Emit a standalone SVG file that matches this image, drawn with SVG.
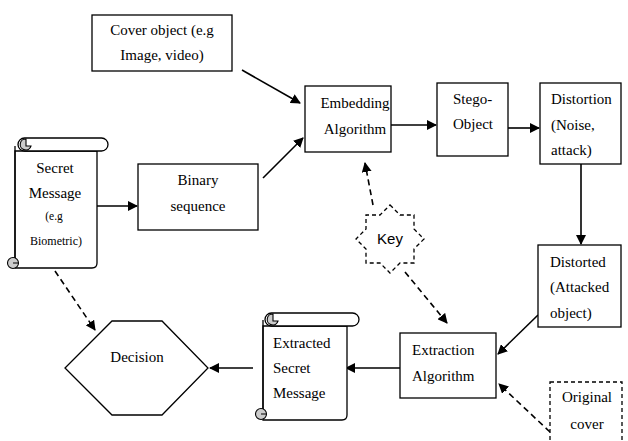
<svg xmlns="http://www.w3.org/2000/svg" width="628" height="441" viewBox="0 0 628 441">
<defs>
<marker id="ah" viewBox="0 0 10 10" refX="9" refY="5" markerWidth="10" markerHeight="10" markerUnits="userSpaceOnUse" orient="auto">
<path d="M0,0 L10,5 L0,10 z" fill="#000"/>
</marker>
</defs>
<style>
.box{fill:#fff;stroke:#000;stroke-width:1.3}
.dbox{fill:#fff;stroke:#000;stroke-width:1.3;stroke-dasharray:4,3}
.t{font-family:"Liberation Serif","Times New Roman",serif;font-size:15px;fill:#000}
.c{text-anchor:middle}
.ln{stroke:#000;stroke-width:1.6;fill:none;marker-end:url(#ah)}
.dl{stroke:#000;stroke-width:1.6;fill:none;stroke-dasharray:6,4;marker-end:url(#ah)}
.curl{fill:#ccc;stroke:#000;stroke-width:1.1}
</style>
<rect width="628" height="441" fill="#fff"/>
<g id="connectors">
<line class="ln" x1="242" y1="70" x2="300" y2="103"/>
<line class="ln" x1="263" y1="178" x2="303" y2="138"/>
<line class="ln" x1="97" y1="206" x2="137" y2="206"/>
<line class="ln" x1="391" y1="125" x2="436" y2="125"/>
<line class="ln" x1="508" y1="128" x2="539" y2="128"/>
<line class="ln" x1="581" y1="164" x2="581" y2="244"/>
<line class="ln" x1="538" y1="315" x2="498" y2="354"/>
<line class="ln" x1="400" y1="368" x2="346" y2="368"/>
<line class="ln" x1="253" y1="368" x2="210" y2="368"/>
<line class="dl" x1="373" y1="205" x2="365" y2="163"/>
<line class="dl" x1="405" y1="272" x2="447" y2="323"/>
<line class="dl" x1="550" y1="432" x2="499" y2="384"/>
<line class="dl" x1="55" y1="271" x2="95" y2="330"/>
</g>
<g id="cover">
<rect class="box" x="92" y="15" width="140" height="56"/>
<text class="t c" x="162" y="35">Cover object (e.g</text>
<text class="t c" x="162" y="60">Image, video)</text>
</g>
<g id="embedding">
<rect class="box" x="305" y="86" width="86" height="66"/>
<text class="t c" x="355" y="108">Embedding</text>
<text class="t c" x="355" y="134">Algorithm</text>
</g>
<g id="stego">
<rect class="box" x="437" y="83" width="71" height="73"/>
<text class="t" x="453" y="104">Stego-</text>
<text class="t" x="453" y="129">Object</text>
</g>
<g id="distortion">
<rect class="box" x="540" y="83" width="81" height="81"/>
<text class="t" x="551" y="104">Distortion</text>
<text class="t" x="551" y="130">(Noise,</text>
<text class="t" x="551" y="155">attack)</text>
</g>
<g id="binary">
<rect class="box" x="138" y="164" width="120" height="66"/>
<text class="t c" x="198" y="185">Binary</text>
<text class="t c" x="198" y="211">sequence</text>
</g>
<g id="secret">
<path class="box" d="M15,268 L92,268 Q97,268 97,263 L97,151 L15,151 Z"/>
<rect class="box" x="18" y="138" width="90" height="13" rx="6.5"/>
<path class="curl" d="M26,139 A5.5,5.5 0 1 0 31,146 L26,146 Z"/>
<line x1="15" y1="146" x2="15" y2="262" stroke="#000" stroke-width="1.3"/>
<circle class="curl" cx="13" cy="263" r="5.5"/>
<path d="M13,263 L18,263" stroke="#000" stroke-width="1"/>
<text class="t c" x="55" y="173">Secret</text>
<text class="t c" x="55" y="198">Message</text>
<text class="t c" x="54" y="220" style="font-size:11.5px">(e.g</text>
<text class="t c" x="56" y="245" style="font-size:12px">Biometric)</text>
</g>
<g id="key">
<polygon class="dbox" points="390,205 400,215 414,215 414,229 424,239 414,249 414,263 400,263 390,273 380,263 366,263 366,249 356,239 366,229 366,215 380,215"/>
<text x="390" y="244" text-anchor="middle" style="font-family:'Liberation Sans',Arial,sans-serif;font-size:15px">Key</text>
</g>
<g id="distorted">
<rect class="box" x="538" y="245" width="83" height="82"/>
<text class="t" x="550" y="267">Distorted</text>
<text class="t" x="550" y="292">(Attacked</text>
<text class="t" x="550" y="318">object)</text>
</g>
<g id="extraction">
<rect class="box" x="400" y="333" width="96" height="65"/>
<text class="t" x="412" y="355">Extraction</text>
<text class="t" x="412" y="381">Algorithm</text>
</g>
<g id="original">
<rect class="dbox" x="550" y="382" width="72" height="62"/>
<text class="t c" x="587" y="402">Original</text>
<text class="t c" x="587" y="429">cover</text>
</g>
<g id="extracted">
<path class="box" d="M263,420 L342,420 Q347,420 347,415 L347,326 L263,326 Z"/>
<rect class="box" x="265" y="313" width="94" height="13" rx="6.5"/>
<path class="curl" d="M273,314 A5.5,5.5 0 1 0 278,321 L273,321 Z"/>
<line x1="263" y1="320" x2="263" y2="415" stroke="#000" stroke-width="1.3"/>
<circle class="curl" cx="261" cy="414" r="5.5"/>
<path d="M261,414 L266,414" stroke="#000" stroke-width="1"/>
<text class="t" x="273" y="348">Extracted</text>
<text class="t" x="273" y="373">Secret</text>
<text class="t" x="273" y="398">Message</text>
</g>
<g id="decision">
<polygon class="box" points="112,321 162,321 208,368 162,415 112,415 65,368"/>
<text class="t c" x="137" y="362">Decision</text>
</g>
</svg>
